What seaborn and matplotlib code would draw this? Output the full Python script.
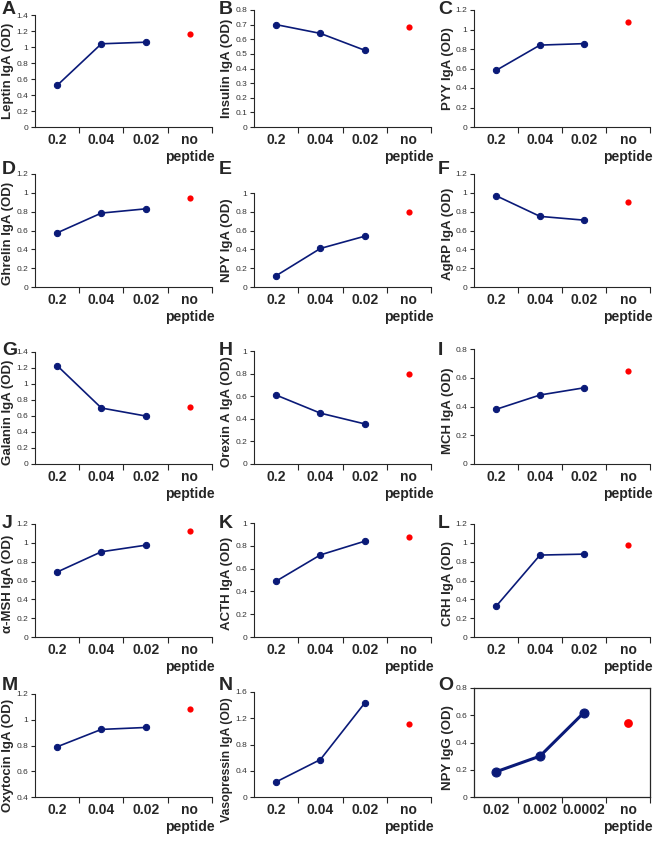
import numpy as np
import seaborn as sns
import matplotlib.pyplot as plt

doses = ["0.2", "0.04", "0.02"]
doses_igg = ["0.02", "0.002", "0.0002"]
ctrl_label = "no\npeptide"

letters = list("ABCDEFGHIJKLMNO")
ylabels = ["Leptin IgA (OD)", "Insulin IgA (OD)", "PYY IgA (OD)",
           "Ghrelin IgA (OD)", "NPY IgA (OD)", "AgRP IgA (OD)",
           "Galanin IgA (OD)", "Orexin A IgA (OD)", "MCH IgA (OD)",
           "\u03b1-MSH IgA (OD)", "ACTH IgA (OD)", "CRH IgA (OD)",
           "Oxytocin IgA (OD)", "Vasopressin IgA (OD)", "NPY IgG (OD)"]
dose_vals = [[0.52, 1.04, 1.06], [0.70, 0.64, 0.525], [0.58, 0.84, 0.855],
             [0.575, 0.785, 0.83], [0.12, 0.41, 0.54], [0.97, 0.75, 0.71],
             [1.23, 0.70, 0.60], [0.61, 0.45, 0.355], [0.38, 0.48, 0.53],
             [0.69, 0.905, 0.975], [0.49, 0.72, 0.84], [0.325, 0.87, 0.88],
             [0.79, 0.925, 0.94], [0.23, 0.57, 1.43], [0.185, 0.30, 0.62]]
ctrl_vals = [1.16, 0.685, 1.08, 0.95, 0.80, 0.90, 0.71, 0.80, 0.65,
             1.125, 0.88, 0.98, 1.08, 1.12, 0.54]
y_lo = [0, 0, 0, 0, 0, 0, 0, 0, 0, 0, 0, 0, 0.4, 0, 0]
y_hi = [1.4, 0.8, 1.2, 1.2, 1.0, 1.2, 1.4, 1.0, 0.8, 1.2, 1.0, 1.2, 1.2, 1.6, 0.8]
y_step = [0.2, 0.1, 0.2, 0.2, 0.2, 0.2, 0.2, 0.2, 0.2, 0.2, 0.2, 0.2, 0.2, 0.4, 0.2]

sns.set_style("ticks")
plt.rcParams["font.family"] = ["Liberation Sans", "DejaVu Sans"]

W, H = 655, 852
fig = plt.figure(figsize=(W / 100, H / 100), dpi=100)

# layout in pixels
col_left = [35, 254, 474]
col_right = [212, 431, 650]
label_x = [8, 227, 448]
letter_x = [2, 219, 438]
letter_y = [10, 170, 350, 524, 685]
ax_top = [15, 10, 10, 174, 193, 174, 352, 351, 349, 524, 523, 524, 694, 692, 688]
row_bot = [127, 287, 464, 637, 797]
label_pos = [0.5, 0.5, 0.5, 0.47, 0.5, 0.47, 0.46, 0.46, 0.46, 0.47, 0.47, 0.47,
             0.4, 0.36, 0.45]
label_size = [9.5] * 13 + [8.8, 9.5]
navy = "#0a1a78"

for i in range(15):
    r, c = divmod(i, 3)
    l, rt = col_left[c], col_right[c]
    t, b = ax_top[i], row_bot[r]
    ax = fig.add_axes([l / W, 1 - b / H, (rt - l) / W, (b - t) / H])
    xs = doses_igg if i == 14 else doses
    big = i == 14
    sns.lineplot(x=xs, y=dose_vals[i], ax=ax, color=navy, sort=False,
                 linewidth=2.2 if big else 1.2, marker="o",
                 markersize=6.5 if big else 4.5, markeredgecolor=navy)
    sns.scatterplot(x=[ctrl_label], y=[ctrl_vals[i]], ax=ax, color="#ff0000",
                    s=40 if big else 20, edgecolor="#ff0000", linewidth=0)
    ax.set_xlim(-0.5, 3.5)
    ax.set_xticks([0, 1, 2, 3])
    ax.set_xticklabels(xs + [ctrl_label], fontweight="bold", fontsize=10,
                       linespacing=1.3, va="top")
    ax.set_xticks([0.5, 1.5, 2.5, 3.5], minor=True)
    ax.tick_params(axis="x", which="major", length=0, pad=4)
    ax.tick_params(axis="x", which="minor", length=4, width=0.8, direction="out")
    ticks = np.round(np.arange(y_lo[i], y_hi[i] + y_step[i] / 2, y_step[i]), 2)
    ax.set_ylim(y_lo[i], y_hi[i])
    ax.set_yticks(ticks)
    ax.set_yticklabels([f"{v:g}" for v in ticks], fontsize=6, color="#333333")
    ax.tick_params(axis="y", length=3, width=0.8, pad=2)
    ax.set_ylabel(ylabels[i], fontweight="bold", fontsize=label_size[i], va="center")
    ax.yaxis.set_label_coords((label_x[c] - l) / (rt - l), label_pos[i])
    ax.set_xlabel("")
    if big:
        for s in ax.spines.values():
            s.set_linewidth(0.9)
    else:
        sns.despine(ax=ax)
        ax.spines["left"].set_linewidth(0.8)
        ax.spines["bottom"].set_linewidth(0.8)
    fig.text(letter_x[c] / W, 1 - letter_y[r] / H, letters[i],
             fontsize=14, fontweight="bold", ha="left", va="center")

fig.savefig("out.png", dpi=100)
